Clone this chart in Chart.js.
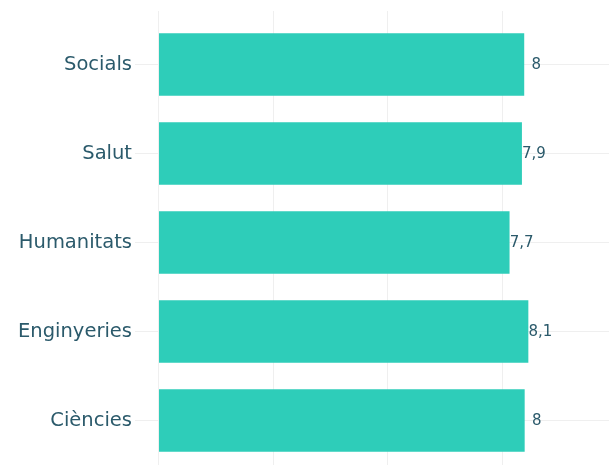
<!DOCTYPE html>
<html>
<head>
<meta charset="utf-8">
<script src="https://cdn.jsdelivr.net/npm/chart.js@4.4.0/dist/chart.umd.min.js"></script>
<style>
  html, body { margin: 0; padding: 0; background: #ffffff; }
  #wrap { width: 609px; height: 465px; }
</style>
</head>
<body>
<div id="wrap"><canvas id="c" width="609" height="465"></canvas></div>
<script>
const categories = ["Socials", "Salut", "Humanitats", "Enginyeries", "Ciències"];
const values = [7.98, 7.93, 7.66, 8.07, 7.99];
const valueLabels = ["8", "7,9", "7,7", "8,1", "8"];
const gridTicks = [0, 2.5, 5, 7.5];

const textColor = "#2b5a6b";
const barColor = "#2ecdb9";
const gridColor = "#efefef";

const valueLabelPlugin = {
  id: "valueLabels",
  afterDatasetsDraw(chart) {
    const ctx = chart.ctx;
    const xs = chart.scales.x, ys = chart.scales.y;
    ctx.save();
    ctx.font = "15px 'DejaVu Sans'";
    ctx.fillStyle = textColor;
    ctx.textAlign = "center";
    ctx.textBaseline = "middle";
    values.forEach((v, i) => {
      const x = xs.getPixelForValue(v) + 12;
      const y = ys.getPixelForValue(i);
      ctx.fillText(valueLabels[i], x, y + 1);
    });
    ctx.restore();
  }
};

new Chart(document.getElementById("c"), {
  type: "bar",
  data: {
    labels: categories,
    datasets: [{
      data: values,
      backgroundColor: barColor,
      borderWidth: 0,
      categoryPercentage: 1,
      barPercentage: 0.7
    }]
  },
  options: {
    indexAxis: "y",
    responsive: false,
    animation: false,
    devicePixelRatio: 1,
    layout: { padding: { top: 11, bottom: -1, left: 0, right: 0 } },
    plugins: { legend: { display: false }, tooltip: { enabled: false } },
    scales: {
      x: {
        type: "linear",
        position: "top",
        min: -0.513,
        max: 9.83,
        afterBuildTicks: (s) => { s.ticks = gridTicks.map(v => ({ value: v })); },
        ticks: { display: false },
        grid: { color: gridColor, lineWidth: 1, drawTicks: true, tickLength: 9 },
        border: { display: false }
      },
      y: {
        type: "category",
        offset: true,
        afterFit: (s) => { s.width = 135; s.paddingTop = 0; s.paddingBottom = 0; },
        ticks: {
          color: textColor,
          font: { family: "'DejaVu Sans'", size: 19.5 },
          padding: 3
        },
        grid: { color: gridColor, lineWidth: 1, drawTicks: false, offset: false },
        border: { display: false }
      }
    }
  },
  plugins: [valueLabelPlugin]
});
</script>
</body>
</html>
